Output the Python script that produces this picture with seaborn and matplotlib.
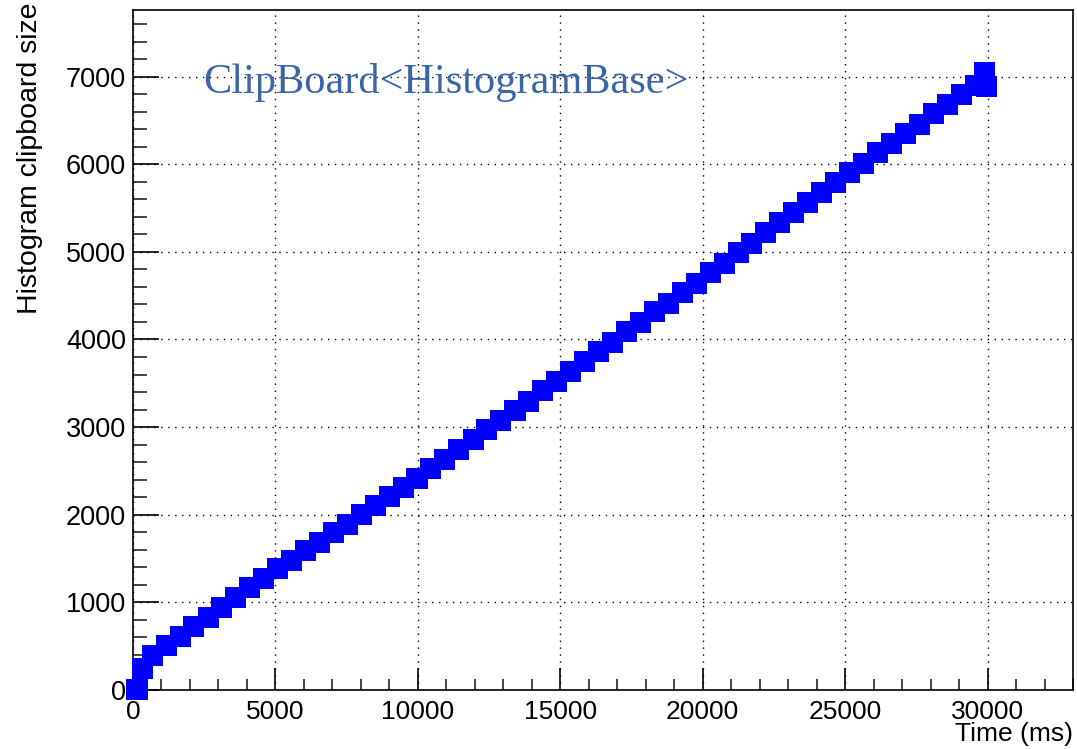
import matplotlib
matplotlib.use("Agg")
import matplotlib.pyplot as plt
from matplotlib.ticker import MultipleLocator
import seaborn as sns
import pandas as pd

# ---- data ----
time_ms = [140, 350, 670, 1160, 1650, 2130, 2640, 3120, 3610, 4100, 4580,
           5070, 5560, 6060, 6540, 7030, 7520, 8020, 8500, 8990, 9490, 9970,
           10460, 10950, 11440, 11940, 12420, 12910, 13410, 13890, 14380,
           14870, 15360, 15860, 16340, 16830, 17320, 17810, 18300, 18790,
           19280, 19770, 20260, 20750, 21240, 21730, 22220, 22710, 23200,
           23690, 24180, 24670, 25160, 25650, 26140, 26630, 27120, 27610,
           28100, 28590, 29080, 29570, 29890, 29960]
clip_size = [0, 250, 390, 505, 608, 722, 830, 946, 1050, 1170, 1268,
             1382, 1478, 1594, 1686, 1800, 1892, 2008, 2100, 2212, 2310, 2418,
             2530, 2632, 2750, 2854, 2972, 3074, 3195, 3296, 3416,
             3518, 3638, 3744, 3862, 3968, 4088, 4192, 4314, 4416,
             4540, 4644, 4764, 4870, 4995, 5100, 5222, 5330, 5452,
             5560, 5682, 5788, 5910, 6012, 6132, 6236, 6354, 6456,
             6574, 6678, 6796, 6902, 7050, 6885]

x_title = "Time (ms)"
y_title = "Histogram clipboard size"
annotation = "ClipBoard<HistogramBase>"

df = pd.DataFrame({"t": time_ms, "size": clip_size})

sns.set_theme(style="white")
plt.rcParams["font.family"] = ["Liberation Sans", "DejaVu Sans"]

fig = plt.figure(figsize=(10.77, 7.49), dpi=100)
ax = fig.add_axes([0.1235, 0.0788, 0.9963 - 0.1235, 0.9866 - 0.0788])

sns.lineplot(data=df, x="t", y="size", sort=False, color="red", lw=1.5,
             ax=ax, zorder=2, estimator=None)
sns.scatterplot(data=df, x="t", y="size", marker="s", s=229, color="#0000ff",
                edgecolor="none", linewidth=0, ax=ax, zorder=3, clip_on=False)

ax.set_xlim(0, 33000)
ax.set_ylim(0, 7760)
ax.xaxis.set_major_locator(MultipleLocator(5000))
ax.xaxis.set_minor_locator(MultipleLocator(1000))
ax.yaxis.set_major_locator(MultipleLocator(1000))
ax.yaxis.set_minor_locator(MultipleLocator(200))

ax.grid(True, which="major", color="black", linestyle=(0, (1, 4)), linewidth=1.0)
ax.tick_params(axis="y", which="major", direction="in", length=19, width=1.2,
               labelsize=19.5, pad=5, left=True, colors="black")
ax.tick_params(axis="y", which="minor", direction="in", length=10, width=1.2, left=True)
ax.tick_params(axis="x", which="major", direction="in", length=16, width=1.2,
               labelsize=19, pad=7, bottom=True, colors="black")
ax.tick_params(axis="x", which="minor", direction="in", length=8, width=1.2, bottom=True)

for sp in ax.spines.values():
    sp.set_color("black")
    sp.set_linewidth(1.2)

ax.set_xlabel(x_title, fontsize=19, color="black", loc="right")
ax.xaxis.set_label_coords(1.0, -0.047)
ax.set_ylabel(y_title, fontsize=20.5, color="black", loc="top")
ax.yaxis.set_label_coords(-0.0957, 1.011)

ax.text(0.0745, 0.878, annotation, transform=ax.transAxes, fontsize=30.5,
        family=["Liberation Serif", "DejaVu Serif"], color="#3a66a7",
        va="baseline", ha="left")

fig.savefig("out.png", dpi=100)
